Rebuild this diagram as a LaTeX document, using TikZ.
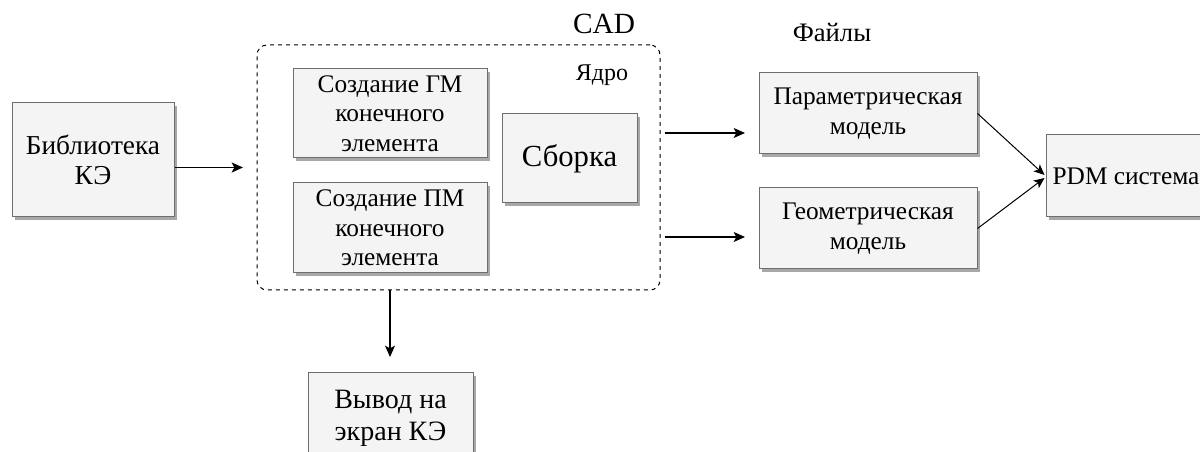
\documentclass[tikz,border=0pt]{standalone}
\usepackage{fontspec}
\setmainfont{Liberation Serif}
\usetikzlibrary{arrows.meta}
\usetikzlibrary{shadows}
\usetikzlibrary{calc}
\usepackage{xcolor}

\definecolor{boxfill}{HTML}{F4F4F4}
\definecolor{boxline}{HTML}{6E6E6E}
\definecolor{shadowgray}{HTML}{A8A8A8}

\tikzset{
    block/.style={draw=boxline, line width=0.75pt, fill=boxfill, align=center,
        inner sep=2pt, font=\fontsize{19}{22}\selectfont,
        drop shadow={shadow xshift=2.25pt, shadow yshift=-2.25pt, fill=shadowgray, opacity=1}},
    frame/.style={draw, dashed, line width=0.75pt, rounded corners=7.5pt},
    arr/.style={line width=1pt, -{Stealth[length=8.5pt, width=7.5pt, inset=2pt]}},
    thinarr/.style={line width=0.75pt, -{Stealth[length=8pt, width=7pt, inset=2pt]}},
    lbl/.style={inner sep=0pt}
}

\begin{document}
\begin{tikzpicture}[x=0.75pt, y=-0.75pt]
        \clip (0,0) rectangle (1200,452);

        % CAD frame with its kernel
        \node[frame, minimum width=302.25pt, minimum height=183.75pt] (cad) at (458.5,167.5) {};
        \node[lbl, font=\fontsize{22}{24}\selectfont] (cadlabel) at (604,24) {CAD};
        \node[lbl, font=\fontsize{18}{20}\selectfont] (core) at (602,75) {Ядро};

        \node[block, minimum width=121.5pt, minimum height=85.5pt, font=\fontsize{20.5}{23}\selectfont] (lib) at (93,160) {Библиотека\\КЭ};
        \node[block, minimum width=145.5pt, minimum height=66.75pt] (gm) at (390,113.5) {Создание ГМ\\конечного\\элемента};
        \node[block, minimum width=145.5pt, minimum height=67.5pt] (pm) at (390,228) {Создание ПМ\\конечного\\элемента};
        \node[block, minimum width=101.25pt, minimum height=66.75pt, font=\fontsize{23}{26}\selectfont] (asm) at (569.5,158.5) {Сборка};

        % files
        \node[lbl, font=\fontsize{20}{22}\selectfont] (files) at (832,33) {Файлы};
        \node[block, minimum width=163.5pt, minimum height=60.75pt] (param) at (868,113.5) {Параметрическая\\модель};
        \node[block, minimum width=163.5pt, minimum height=60.75pt] (geom) at (868,228.5) {Геометрическая\\модель};
        \node[block, minimum width=120pt, minimum height=61.5pt] (pdm) at (1126,176) {PDM система};

        \node[block, minimum width=123.75pt, minimum height=67.5pt, font=\fontsize{21}{24}\selectfont] (out) at (390.5,418) {Вывод на\\экран КЭ};

        \coordinate (pin) at (243,167.5);
        \coordinate (pout1) at (745,133);
        \coordinate (gout1) at (745,237);
        \coordinate (sout) at (390,357);

        \draw[arr] (lib.east |- pin) -- (pin);
        \draw[arr] (cad.east |- pout1) ++(4,0) -- (pout1);
        \draw[arr] (cad.east |- gout1) ++(4,0) -- (gout1);
        \draw[arr] (cad.south -| sout) -- (sout);

        \draw[thinarr] (param.east) -- ($(pdm.west)+(-1,-1)$);
        \draw[thinarr] (geom.east) -- ($(pdm.west)+(-1,2)$);
    \end{tikzpicture}
\end{document}
